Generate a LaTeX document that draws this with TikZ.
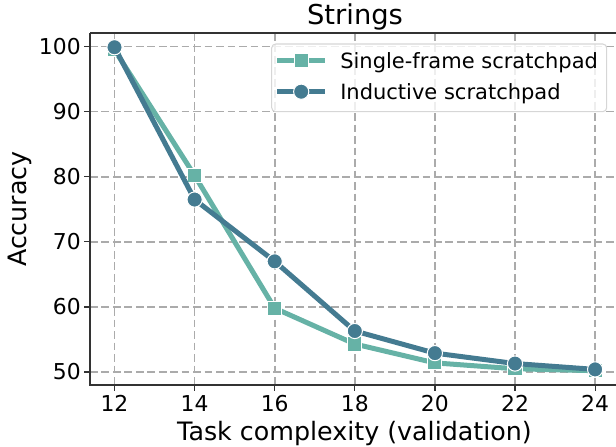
\documentclass[tikz,border=0pt]{standalone}
\usepackage{fontspec}
\setmainfont{DejaVu Sans}
\definecolor{sfc}{HTML}{66B2A6}
\definecolor{indc}{HTML}{447B91}
\definecolor{gridc}{HTML}{ABABAB}
\definecolor{spinec}{HTML}{333333}
\definecolor{legc}{HTML}{D6D6D6}
\tikzset{
  gridline/.style={draw=gridc, line width=1.2pt, dash pattern=on 5.8pt off 2.8pt},
  spine/.style={draw=spinec, line width=0.9pt},
  tickmark/.style={draw=spinec, line width=0.9pt},
  ticklab/.style={font=\fontsize{16.4}{19}\selectfont, inner sep=0pt},
  axlab/.style={font=\fontsize{19}{22}\selectfont, inner sep=0pt},
  leglab/.style={font=\fontsize{15.75}{18}\selectfont, inner sep=0pt, anchor=base west},
  sfline/.style={draw=sfc, line width=3.75pt, line join=round},
  indline/.style={draw=indc, line width=3.75pt, line join=round},
  sqmark/.style={rectangle, fill=sfc, draw=white, line width=0.75pt, minimum size=10.6pt, inner sep=0pt},
  cimark/.style={circle, fill=indc, draw=white, line width=0.75pt, minimum size=11.4pt, inner sep=0pt},
  legbox/.style={draw=legc, line width=0.8pt, fill=white, fill opacity=0.8, rounded corners=3pt},
}
\begin{document}
\begin{tikzpicture}[x=0.75pt, y=-0.75pt]
\useasboundingbox (0,0) rectangle (616,446);
\clip (0,0) rectangle (616,446);
% grid
\foreach \v in {12,14,...,24}{
  \pgfmathsetmacro\xx{114.5+(\v-12)*40.05}
  \draw[gridline] (\xx,33) -- (\xx,385);
  \draw[tickmark] (\xx,385) -- (\xx,391);
  \node[ticklab, anchor=base] (xt\v) at (\xx,411.7) {\v};
}
\foreach \a in {50,60,...,100}{
  \pgfmathsetmacro\yy{372-(\a-50)*6.508}
  \draw[gridline] (90,\yy) -- (616,\yy);
  \draw[tickmark] (84,\yy) -- (90,\yy);
  \node[ticklab, anchor=east] (yt\a) at (81,\yy) {\a};
}
% data
\begin{scope}[shift={(-366.1,697.4)}, x=30.0375pt, y=4.881pt]
  \coordinate (s1) at (12,99.5);
  \coordinate (s2) at (14,80.2);
  \coordinate (s3) at (16,59.8);
  \coordinate (s4) at (18,54.3);
  \coordinate (s5) at (20,51.4);
  \coordinate (s6) at (22,50.5);
  \coordinate (s7) at (24,50.2);
  \coordinate (i1) at (12,99.9);
  \coordinate (i2) at (14,76.5);
  \coordinate (i3) at (16,67.0);
  \coordinate (i4) at (18,56.3);
  \coordinate (i5) at (20,52.9);
  \coordinate (i6) at (22,51.3);
  \coordinate (i7) at (24,50.4);
\end{scope}
\draw[sfline] (s1) -- (s2) -- (s3) -- (s4) -- (s5) -- (s6) -- (s7);
\foreach \k in {1,...,7}{\node[sqmark] (ms\k) at (s\k) {};}
\draw[indline] (i1) -- (i2) -- (i3) -- (i4) -- (i5) -- (i6) -- (i7);
\foreach \k in {1,...,7}{\node[cimark] (mi\k) at (i\k) {};}
% spines
\draw[spine] (90,33) -- (90,385) -- (616,385);
\draw[spine] (90,33) -- (616,33);
% labels
\node[axlab, anchor=base] (title) at (355,24.5) {\fontsize{20.5}{24}\selectfont Strings};
\node[axlab, anchor=base] (xlab) at (354.5,440) {Task complexity (validation)};
\node[axlab, anchor=base, rotate=90] (ylab) at (26.5,209) {Accuracy};
% legend
\draw[legbox] (271.7,44) rectangle (606.7,111.7);
\coordinate (l1a) at (277.3,60.7);
\coordinate (l1b) at (325,60.7);
\coordinate (l2a) at (277.3,91.7);
\coordinate (l2b) at (325,91.7);
\draw[sfline] (l1a) -- (l1b);
\node[sqmark] (lm1) at (301.2,60.7) {};
\draw[indline] (l2a) -- (l2b);
\node[cimark] (lm2) at (301.2,91.7) {};
\node[leglab] (lt1) at (340,68.3) {Single-frame scratchpad};
\node[leglab] (lt2) at (340,99.3) {Inductive scratchpad};
\end{tikzpicture}
\end{document}
